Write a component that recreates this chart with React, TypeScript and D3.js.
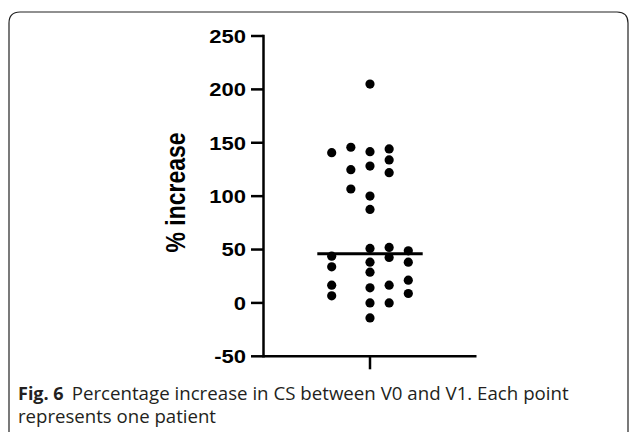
import * as d3 from "d3";

// % increase in CS, one value per patient, and the column each dot sits in
const values = [
  140.7, 43.8, 33.8, 16.6, 6.6,
  145.8, 124.8, 106.7,
  205, 141.7, 128.2, 100.1, 87.6, 51, 38.2, 28.8, 14.1, 0, -14.1,
  144.2, 133.9, 122, 52, 42.6, 16.6, 0,
  48.8, 38.2, 21.3, 8.8,
];
const lanes = [
  -2, -2, -2, -2, -2,
  -1, -1, -1,
  0, 0, 0, 0, 0, 0, 0, 0, 0, 0, 0,
  1, 1, 1, 1, 1, 1, 1,
  2, 2, 2, 2,
];
const medianValue = 46;
const yTicks = [-50, 0, 50, 100, 150, 200, 250];
const yLabel = "% increase";
const captionBold = "Fig. 6";
const captionLine1 = "Percentage increase in CS between V0 and V1. Each point";
const captionLine2 = "represents one patient";

const W = 629;
const H = 432;

export default function App() {
  const y = d3.scaleLinear().domain([-50, 250]).range([356.3, 36]);
  const lane = d3.scalePoint<number>().domain([-2, -1, 0, 1, 2]).range([331.7, 408.3]);
  const axisX = 263.5;
  const axisRight = 476.5;
  const tickX = 370;
  const stretch = 1.17; // figure was scaled wider than tall
  const labelFont = "'Liberation Sans', Arial, sans-serif";
  const capFont = "'Open Sans', 'Noto Sans', sans-serif";

  return (
    <svg
      width={W}
      height={H}
      style={{ position: "fixed", left: 0, top: 0, background: "#fff" }}
    >
      {/* frame */}
      <path
        d={`M9,${H} V23 Q9,12 20,12 H617 Q628,12 628,23 V${H}`}
        fill="none"
        stroke="#222"
        strokeWidth={1.2}
      />

      {/* y axis */}
      <line x1={axisX} x2={axisX} y1={y(250) - 1.2} y2={y(-50) + 1.2} stroke="#000" strokeWidth={2.5} />
      {yTicks.map((t) => (
        <g key={t}>
          <line x1={251} x2={axisX} y1={y(t)} y2={y(t)} stroke="#000" strokeWidth={2.5} />
          <text
            transform={`translate(246,${y(t) + 6.8}) scale(${stretch},1)`}
            textAnchor="end"
            fontFamily={labelFont}
            fontWeight="bold"
            fontSize={18.8}
            fill="#000"
          >
            {t}
          </text>
        </g>
      ))}
      <text
        transform={`translate(175,192.5) scale(${stretch},1) rotate(-90)`}
        textAnchor="middle"
        dominantBaseline="central"
        fontFamily={labelFont}
        fontWeight="bold"
        fontSize={23}
        fill="#000"
      >
        {yLabel}
      </text>

      {/* x axis */}
      <line x1={axisX} x2={axisRight} y1={y(-50)} y2={y(-50)} stroke="#000" strokeWidth={2.5} />
      <line x1={tickX} x2={tickX} y1={y(-50)} y2={y(-50) + 13} stroke="#000" strokeWidth={2.5} />

      {/* dots */}
      {values.map((v, i) => (
        <circle key={i} cx={lane(lanes[i])} cy={y(v)} r={4.6} fill="#000" />
      ))}

      {/* median */}
      <line x1={317.3} x2={422.7} y1={y(medianValue)} y2={y(medianValue)} stroke="#000" strokeWidth={3} />

      {/* caption */}
      <text x={18} y={400} fontFamily={capFont} fontSize={18} fill="#231f20">
        <tspan fontWeight="bold">{captionBold}</tspan>
        <tspan dx={8} textLength={497} lengthAdjust="spacingAndGlyphs">{captionLine1}</tspan>
      </text>
      <text
        x={18}
        y={423}
        fontFamily={capFont}
        fontSize={18}
        fill="#231f20"
        textLength={198}
        lengthAdjust="spacingAndGlyphs"
      >
        {captionLine2}
      </text>
    </svg>
  );
}
